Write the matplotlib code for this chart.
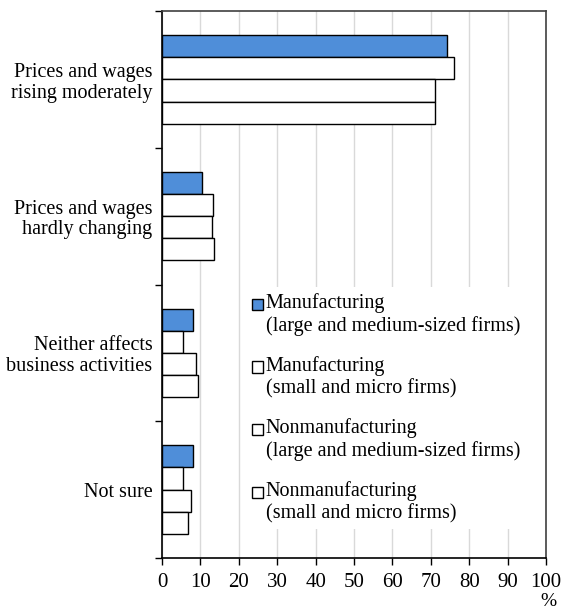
import numpy as np
import matplotlib.pyplot as plt
import matplotlib.transforms as mtransforms
from matplotlib.patches import Patch, Rectangle
from matplotlib.legend_handler import HandlerBase

plt.rcParams['font.family'] = ['Liberation Serif', 'DejaVu Serif']

categories = ['Prices and wages\nrising moderately', 'Prices and wages\nhardly changing',
              'Neither affects\nbusiness activities', 'Not sure']
series_names = ['Manufacturing\n(large and medium-sized firms)',
                'Manufacturing\n(small and micro firms)',
                'Nonmanufacturing\n(large and medium-sized firms)',
                'Nonmanufacturing\n(small and micro firms)']
mfg_large = [74.1, 10.5, 8.0, 8.0]
mfg_small = [76.1, 13.4, 5.5, 5.5]
nonmfg_large = [71.2, 13.0, 8.9, 7.5]
nonmfg_small = [71.0, 13.6, 9.3, 6.7]
xticks = [0, 10, 20, 30, 40, 50, 60, 70, 80, 90, 100]

series = [mfg_large, mfg_small, nonmfg_large, nonmfg_small]
colors = ['#4f8ed9', 'white', 'white', 'white']


# legend square sits next to the first line of the label, not in the middle
class TopSquare(HandlerBase):
    def create_artists(self, legend, orig_handle, xdescent, ydescent, width, height, fontsize, trans):
        s = 0.55 * fontsize
        p = Rectangle((-xdescent, -ydescent + height - s), s, s,
                      facecolor=orig_handle.get_facecolor(), edgecolor='black',
                      linewidth=1.0, transform=trans)
        return [p]


fig = plt.figure(figsize=(5.63, 6.11), dpi=100)
ax = fig.add_axes([0.2877, 0.0867, 0.6821, 0.8953])

bar_h = 0.1622
y = np.arange(len(categories))
for i, (vals, col) in enumerate(zip(series, colors)):
    ax.barh(y - 1.5 * bar_h + i * bar_h, vals, height=bar_h, color=col,
            edgecolor='black', linewidth=1.0, zorder=3)

ax.set_xlim(0, 100)
ax.set_ylim(len(categories) - 0.5, -0.5)
ax.set_xticks(xticks)
ax.set_xticklabels([str(t) for t in xticks], fontsize=15)
ax.set_yticks(np.arange(len(categories) + 1) - 0.5)
ax.set_yticklabels([])
ax.set_yticks(y, minor=True)
ax.set_yticklabels(categories, minor=True, fontsize=14.5, linespacing=1.12)
shift = mtransforms.ScaledTranslation(0, -4 / 100, fig.dpi_scale_trans)
for lab in ax.get_yticklabels(minor=True):
    lab.set_transform(lab.get_transform() + shift)
ax.tick_params(axis='y', which='minor', length=0, pad=7)
ax.tick_params(axis='y', which='major', length=5, direction='out', width=1)
ax.tick_params(axis='x', length=5, direction='out', width=1, pad=6)
ax.xaxis.grid(True, color='#d9d9d9', linewidth=1.0, zorder=0)
ax.set_axisbelow(True)

for s in ['left', 'bottom']:
    ax.spines[s].set_color('black')
    ax.spines[s].set_linewidth(1.2)
for s in ['top', 'right']:
    ax.spines[s].set_color('#404040')
    ax.spines[s].set_linewidth(1.2)

fig.text(0.975, 0.001, '%', ha='center', va='bottom', fontsize=14)

handles = [Patch(facecolor=c, edgecolor='black') for c in colors]
leg = ax.legend(handles, series_names, loc='upper left', bbox_to_anchor=(0.218, 0.4955),
                frameon=True, fontsize=14.5, handlelength=0.55, handleheight=2.1,
                handletextpad=0.15, labelspacing=1.0, borderpad=0.3, borderaxespad=0,
                handler_map={Patch: TopSquare()})
leg.get_frame().set_facecolor('white')
leg.get_frame().set_edgecolor('none')
leg.get_frame().set_alpha(1)
leg.set_zorder(5)

fig.savefig('out.png', dpi=100)
